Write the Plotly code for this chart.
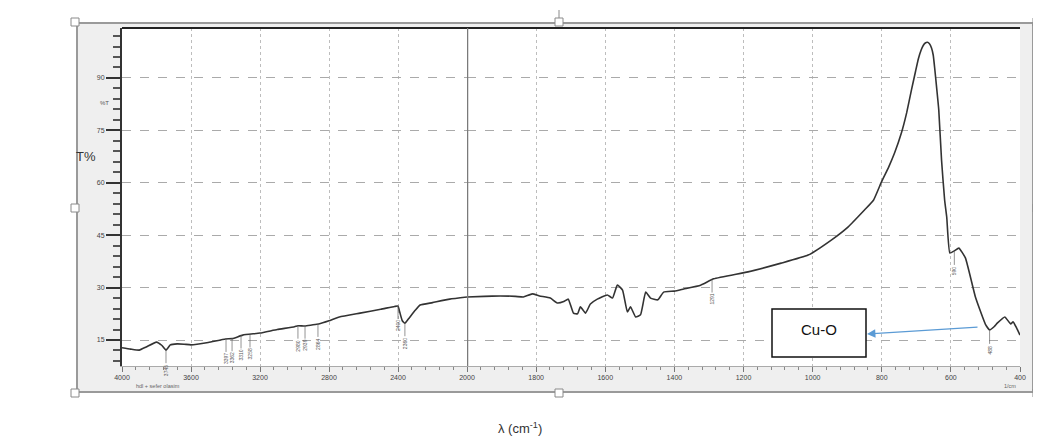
import plotly.graph_objects as go

# ---------------- data ----------------
wn_high = [4000, 3950, 3900, 3860, 3800, 3770, 3745, 3720, 3680, 3640, 3600, 3500, 3400, 3360,
           3300, 3200, 3100, 3000, 2980, 2940, 2900, 2860, 2800, 2740, 2620, 2500, 2420, 2400,
           2390, 2375, 2360, 2340, 2300, 2272, 2200, 2100, 2000]
t_high = [12.8, 12.4, 12.1, 13.0, 14.4, 13.5, 12.1, 13.6, 13.9, 13.8, 13.6, 14.3, 15.3, 15.4,
          16.4, 17.0, 18.0, 18.8, 19.1, 19.0, 19.3, 19.6, 20.5, 21.6, 22.7, 23.8, 24.6, 24.7,
          23.0, 20.5, 19.8, 21.0, 23.5, 25.0, 25.7, 26.7, 27.3]

wn_low = [2000, 1950, 1904, 1860, 1837, 1811, 1790, 1759, 1739, 1720, 1707, 1692, 1680, 1672,
          1657, 1643, 1623, 1594, 1579, 1565, 1550, 1536, 1527, 1512, 1498, 1483, 1469, 1448,
          1431, 1400, 1373, 1324, 1286, 1187, 1091, 1013, 946, 897, 850, 824, 801, 780, 763, 743,
          728, 714, 702, 694, 686, 680, 674, 668, 662, 656, 651, 647, 641, 635, 627, 618, 612,
          603, 590, 577, 558, 529, 500, 488, 475, 465, 444, 427, 420, 410, 400]
t_low = [27.3, 27.5, 27.6, 27.5, 27.3, 28.2, 27.6, 27.0, 25.6, 26.0, 26.7, 22.7, 22.5, 24.5,
         22.7, 25.3, 26.7, 27.9, 27.0, 30.7, 29.3, 23.0, 24.5, 21.6, 22.2, 28.7, 27.0, 26.5,
         28.7, 29.0, 29.6, 30.7, 32.5, 34.5, 37.0, 39.3, 43.6, 47.4, 52.2, 55.0, 60.2, 64.5, 68.5, 74.3,
         80.0, 86.6, 92.0, 95.5, 98.0, 99.3, 100.0, 100.2, 99.8, 98.6, 96.5, 93.0, 87.0, 80.8, 66.5, 55.0, 50.2,
         39.9, 40.5, 41.3, 38.5, 27.3, 19.5, 17.9, 18.8, 19.9, 21.6, 19.6, 20.2, 18.5, 16.4]

peak_wn = [3745, 3397, 3362, 3310, 3258, 2980, 2939, 2864, 2400, 2360, 1291, 590, 488]
peak_t = [12.1, 15.3, 15.5, 16.3, 16.6, 19.1, 19.1, 19.6, 24.7, 19.8, 32.3, 40.5, 17.9]
peak_txt = ["3745", "3397", "3362", "3310", "3258", "2980", "2939", "2864",
            "2400", "2360", "1291", "590", "488"]

xticks_high = [4000, 3600, 3200, 2800, 2400]
xticks_low = [2000, 1800, 1600, 1400, 1200, 1000, 800, 600, 400]

# ---------------- geometry helpers (screen pixels -> paper) ----------------
OFF = 8  # page body margin
W, H = 1041, 441
L, T = 122 - OFF, 28 - OFF
R = W - (1020 - OFF)
B = H - (366 - OFF)
PW, PH = W - L - R, H - T - B


def px(x):
    return (x - OFF - L) / PW


def py(y):
    return (H - B - (y - OFF)) / PH


split = 345 / PW

fig = go.Figure()
line_style = dict(color="#333333", width=1.6, shape="spline", smoothing=0.4)
fig.add_trace(go.Scatter(x=wn_high, y=t_high, mode="lines", line=line_style,
                         xaxis="x", yaxis="y", showlegend=False, hoverinfo="skip"))
fig.add_trace(go.Scatter(x=wn_low, y=t_low, mode="lines", line=line_style,
                         xaxis="x2", yaxis="y", showlegend=False, hoverinfo="skip"))

FONT = "Liberation Sans, Arial, sans-serif"
tickfont = dict(family=FONT, size=7, color="#444444")
common_x = dict(showgrid=True, gridcolor="#bdbdbd", griddash="dot", gridwidth=1,
                ticks="outside", ticklen=5, tickcolor="#777777", tickfont=tickfont,
                showline=True, linecolor="#aaaaaa", linewidth=1, zeroline=False,
                anchor="y", fixedrange=True)

fig.update_layout(
    width=W, height=H,
    margin=dict(l=L, r=R, t=T, b=B),
    paper_bgcolor="white", plot_bgcolor="white",
    showlegend=False,
    xaxis=dict(domain=[0, split], range=[4000, 2000], tickmode="array", tickvals=xticks_high,
               minor=dict(tickmode="linear", tick0=0, dtick=80, ticks="outside", ticklen=3,
                          tickcolor="#888888", showgrid=False),
               **common_x),
    xaxis2=dict(domain=[split, 1], range=[2000, 400], tickmode="array", tickvals=xticks_low,
                minor=dict(tickmode="linear", tick0=0, dtick=40, ticks="outside", ticklen=3,
                           tickcolor="#888888", showgrid=False),
                **common_x),
    yaxis=dict(range=[7.56, 104.3], tickmode="linear", tick0=0, dtick=15,
               showgrid=True, gridcolor="#aaaaaa", griddash="dash", gridwidth=1,
               ticks="outside", ticklen=14, tickcolor="#333333", tickwidth=1.5,
               minor=dict(tickmode="linear", tick0=0, dtick=3, ticks="outside", ticklen=7,
                          tickcolor="#555555", showgrid=False),
               tickfont=tickfont, showline=True, linecolor="#333333", linewidth=2,
               zeroline=False, fixedrange=True),
)

shapes = []
# grey frame panel behind the plot, then white plotting area
shapes.append(dict(type="rect", xref="paper", yref="paper", x0=px(77), x1=px(1033),
                   y0=py(392), y1=py(23), fillcolor="#efefef",
                   line=dict(color="#9a9a9a", width=2), layer="below"))
shapes.append(dict(type="rect", xref="paper", yref="paper", x0=0, x1=1, y0=0, y1=1,
                   fillcolor="white", line=dict(width=0), layer="below"))
# top black border
shapes.append(dict(type="line", xref="paper", yref="paper", x0=0, x1=1, y0=1, y1=1,
                   line=dict(color="#222222", width=2)))
# thick scale-change line at 2000
shapes.append(dict(type="line", xref="x2", yref="paper", x0=2000, x1=2000, y0=0, y1=1,
                   line=dict(color="#7a7a7a", width=2.5)))
# Cu-O box
shapes.append(dict(type="rect", xref="paper", yref="paper", x0=px(772), x1=px(866),
                   y0=py(357), y1=py(309), fillcolor="white",
                   line=dict(color="#111111", width=1.5)))
# selection handles of the picture frame
for hx, hy in [(75, 22), (559, 22), (1037, 22), (75, 208), (1037, 208),
               (75, 393), (559, 393), (1037, 393)]:
    shapes.append(dict(type="rect", xref="paper", yref="paper", x0=px(hx - 4), x1=px(hx + 4),
                       y0=py(hy + 4), y1=py(hy - 4), fillcolor="white",
                       line=dict(color="#8a8a8a", width=1)))
shapes.append(dict(type="line", xref="paper", yref="paper", x0=px(559), x1=px(559),
                   y0=py(18), y1=py(10), line=dict(color="#8a8a8a", width=1)))
fig.update_layout(shapes=shapes)

ann = []
for w, tv, s in zip(peak_wn, peak_t, peak_txt):
    xr = "x" if w > 2000 else "x2"
    ann.append(dict(x=w, y=tv, xref=xr, yref="y", text=s, textangle=-90,
                    showarrow=True, arrowhead=0, arrowwidth=0.7, arrowcolor="#666666",
                    ax=0, ay=20, font=dict(size=5, color="#555555", family=FONT)))


def label(x, y, text, size, color, xanchor="center"):
    return dict(x=px(x), y=py(y), xref="paper", yref="paper", text=text,
                xanchor=xanchor, yanchor="middle", showarrow=False,
                font=dict(size=size, color=color, family=FONT))


# Cu-O label and arrow
ann.append(label(819, 329, "Cu-O", 15, "#111111"))
ann.append(dict(x=px(867), y=py(334), xref="paper", yref="paper", text="",
                ax=112, ay=-7, axref="pixel", ayref="pixel",
                showarrow=True, arrowhead=2, arrowsize=1.4, arrowwidth=1.2,
                arrowcolor="#5b9bd5"))
# texts
ann.append(label(86, 157, "T%", 13, "#333333"))
ann.append(label(520, 428, "λ (cm<sup>-1</sup>)", 13, "#333333"))
ann.append(label(104, 103, "%T", 6, "#555555"))
ann.append(label(134, 386, "hdl + sefer olasim", 5.5, "#666666", xanchor="left"))
ann.append(label(1018, 386, "1/cm", 5.5, "#666666", xanchor="right"))
fig.update_layout(annotations=ann)

fig.write_html("out.html")
